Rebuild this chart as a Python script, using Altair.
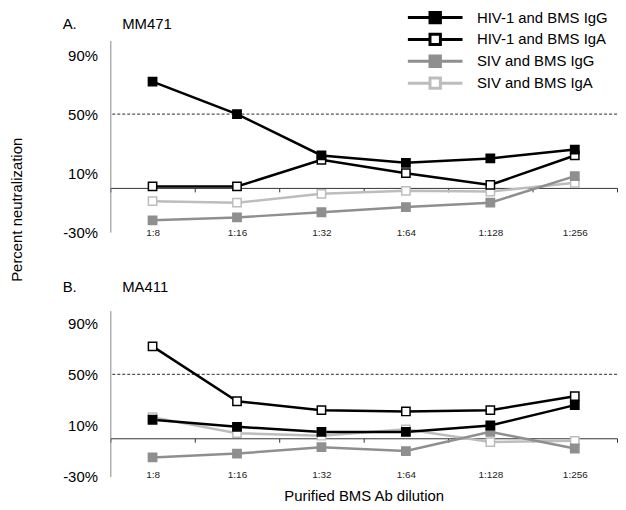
import altair as alt
import pandas as pd

dilutions = ["1:8", "1:16", "1:32", "1:64", "1:128", "1:256"]
series = ["HIV-1 and BMS IgG", "HIV-1 and BMS IgA", "SIV and BMS IgG", "SIV and BMS IgA"]
stroke_colors = ["#000000", "#000000", "#8f8f8f", "#bdbdbd"]
fill_colors = ["#000000", "#ffffff", "#8f8f8f", "#ffffff"]

# Panel A (MM471)
a_hiv_igg = [72, 50, 22, 17, 20, 26]
a_hiv_iga = [1, 1, 19, 10, 2, 22]
a_siv_igg = [-22, -20, -16.5, -13, -10, 8]
a_siv_iga = [-9, -10, -4, -2, -2.5, 3.5]
# Panel B (MA411)
b_hiv_igg = [14.5, 9, 5, 5, 10, 26]
b_hiv_iga = [72, 29, 22, 21, 22, 33]
b_siv_igg = [-15, -12, -7, -10, 5, -8]
b_siv_iga = [16.5, 4, 2, 7, -3, -2]

threshold = [50]
y_ticks = [-30, 10, 50, 90]
y_domain = [-30, 100]

FONT = "Liberation Sans"


def make_df(hiv_igg, hiv_iga, siv_igg, siv_iga):
    rows = []
    # draw SIV first so HIV lines sit on top
    for name, vals in [(series[3], siv_iga), (series[2], siv_igg),
                       (series[1], hiv_iga), (series[0], hiv_igg)]:
        for d, v in zip(dilutions, vals):
            rows.append({"dilution": d, "value": v, "series": name})
    return pd.DataFrame(rows)


legend = alt.Legend(
    title=None, orient="none", legendX=298, legendY=-31,
    symbolType="M-1,0H-0.19M0.19,0H1M-0.19,-0.19H0.19V0.19H-0.19Z",
    symbolSize=3025, symbolStrokeWidth=3, clipHeight=16, rowPadding=6,
    labelFont=FONT, labelFontSize=15, labelColor="#000", labelOffset=13,
    padding=0, symbolOpacity=1,
)


def panel(df, title_text, h, lab_pad, y_title, x_title, title_offset, show_legend):
    zero_off = -(30 / 130) * h
    x = alt.X(
        "dilution:N", sort=dilutions,
        scale=alt.Scale(type="band", paddingInner=0, paddingOuter=0),
        axis=alt.Axis(
            title=x_title if x_title else None,
            offset=zero_off, tickBand="extent", tickSize=4, tickColor="#333",
            domainColor="#333", domainWidth=1, labelAngle=0,
            labelBaseline="middle", labelPadding=lab_pad, labelFont=FONT,
            labelFontSize=10, labelColor="#222", titleFont=FONT,
            titleFontSize=15, titleFontWeight="normal", titleColor="#000",
            titlePadding=9,
        ),
    )
    yaxis_kwargs = dict(
        values=y_ticks, labelExpr="datum.value + '%'", grid=False, ticks=False,
        domainColor="#888", labelFont=FONT, labelFontSize=15, labelColor="#000",
        labelPadding=13,
    )
    if y_title:
        yaxis_kwargs.update(
            title=y_title, titleFont=FONT, titleFontSize=15,
            titleFontWeight="normal", titleColor="#000", titleX=-94,
            titleY=170, titleAngle=270, titleAlign="center",
            titleBaseline="middle",
        )
    else:
        yaxis_kwargs.update(title=None)
    y = alt.Y("value:Q", scale=alt.Scale(domain=y_domain, nice=False, zero=False),
              axis=alt.Axis(**yaxis_kwargs))

    lg = legend if show_legend else None
    stroke = alt.Stroke("series:N", scale=alt.Scale(domain=series, range=stroke_colors),
                        legend=lg)
    fill = alt.Fill("series:N", scale=alt.Scale(domain=series, range=fill_colors),
                    legend=lg)

    base = alt.Chart(df)
    lines = base.mark_line(strokeWidth=2.5).encode(x=x, y=y, stroke=stroke)
    pts = base.mark_square(size=70, strokeWidth=1.5, opacity=1).encode(
        x=x, y=y, stroke=stroke, fill=fill)
    ref = alt.Chart(pd.DataFrame({"v": threshold})).mark_rule(
        strokeDash=[3, 2], color="#555", strokeWidth=1.2).encode(y=alt.Y("v:Q"))

    return alt.layer(ref, lines, pts).properties(
        width=510, height=h,
        title=alt.TitleParams(
            text=title_text, anchor="start", frame="group", dx=-48,
            font=FONT, fontSize=15, fontWeight="normal", color="#000",
            offset=title_offset,
        ),
    )


df_a = make_df(a_hiv_igg, a_hiv_iga, a_siv_igg, a_siv_iga)
df_b = make_df(b_hiv_igg, b_hiv_iga, b_siv_igg, b_siv_iga)

nb = "\u00a0" * 11
pa = panel(df_a, "A." + nb + "MM471", 193, 40.5, "Percent neutralization", None, 8, True)
pb = panel(df_b, "B." + nb + "MA411", 167, 32.5, None, "Purified BMS Ab dilution", 16, True)

chart = alt.vconcat(pa, pb, spacing=79, bounds="flush").properties(
    padding={"left": 2, "top": 0, "right": 0, "bottom": 0}).configure_view(stroke=None)

chart.save("out.html", embed_options={"renderer": "svg", "actions": False})
